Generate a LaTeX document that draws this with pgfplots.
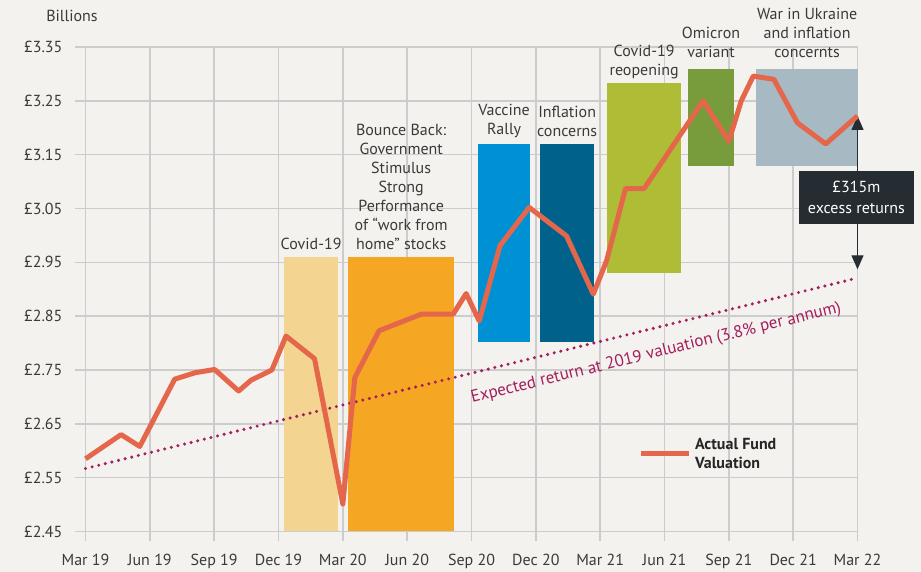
\documentclass[border=0pt]{standalone}
\usepackage{pgfplots}
\pgfplotsset{compat=1.18}
\usepackage{fontspec}
\setmainfont{PT Sans}
\usetikzlibrary{arrows.meta}
\definecolor{bg}{HTML}{F4F2EE}
\definecolor{gridc}{HTML}{CCCCCC}
\definecolor{fund}{HTML}{E5674B}
\definecolor{expc}{HTML}{A51D5D}
\definecolor{covid}{HTML}{F3D591}
\definecolor{bounce}{HTML}{F5A623}
\definecolor{vacc}{HTML}{0090D4}
\definecolor{infl}{HTML}{00628A}
\definecolor{reopen}{HTML}{AFBD36}
\definecolor{omic}{HTML}{789B3B}
\definecolor{war}{HTML}{A7B9C3}
\definecolor{boxc}{HTML}{262D32}
\definecolor{txt}{HTML}{3A3A3A}
\newcommand{\lf}{\fontsize{8}{9.5}\selectfont}
\begin{document}
\begin{tikzpicture}
\fill[bg] (-42.75pt,-20.25pt) rectangle (417.75pt,265.75pt);
\begin{axis}[
  scale only axis, width=386pt, height=242.25pt,
  xmin=0, xmax=36, ymin=2.45, ymax=3.35,
  axis line style={draw=none},
  grid=major, grid style={draw=gridc, line width=0.8pt},
  tick style={draw=gridc, line width=0.8pt},
  major tick length=5pt, tick align=outside,
  xtick pos=left, ytick pos=left,
  xtick={0,3,...,36},
  xticklabels={Mar 19,Jun 19,Sep 19,Dec 19,Mar 20,Jun 20,Sep 20,Dec 20,Mar 21,Jun 21,Sep 21,Dec 21,Mar 22},
  ytick={2.45,2.55,2.65,2.75,2.85,2.95,3.05,3.15,3.25,3.35},
  yticklabels={£2.45,£2.55,£2.65,£2.75,£2.85,£2.95,£3.05,£3.15,£3.25,£3.35},
  ticklabel style={font=\lf, text=txt},
  xticklabel style={yshift=-3pt},
  yticklabel style={xshift=-3pt},
  clip=false,
  legend style={at={(axis cs:25.47,2.602)}, anchor=west, draw=none, fill=none, font=\lf\bfseries, text=black!85},
  legend image code/.code={\draw[#1, line width=2.5pt] (0pt,-2pt) -- (24pt,-2pt);},
  legend cell align=left,
]
% event bands
\addplot[fill=covid, draw=none, forget plot] coordinates {(9.27,2.45) (11.77,2.45) (11.77,2.96) (9.27,2.96)} -- cycle;
\addplot[fill=bounce, draw=none, forget plot] coordinates {(12.26,2.45) (17.19,2.45) (17.19,2.96) (12.26,2.96)} -- cycle;
\addplot[fill=vacc, draw=none, forget plot] coordinates {(18.32,2.802) (20.74,2.802) (20.74,3.17) (18.32,3.17)} -- cycle;
\addplot[fill=infl, draw=none, forget plot] coordinates {(21.19,2.802) (23.71,2.802) (23.71,3.17) (21.19,3.17)} -- cycle;
\addplot[fill=reopen, draw=none, forget plot] coordinates {(24.33,2.931) (27.79,2.931) (27.79,3.283) (24.33,3.283)} -- cycle;
\addplot[fill=omic, draw=none, forget plot] coordinates {(28.09,3.129) (30.23,3.129) (30.23,3.309) (28.09,3.309)} -- cycle;
\addplot[fill=war, draw=none, forget plot] coordinates {(31.28,3.129) (36.0,3.129) (36.0,3.309) (31.28,3.309)} -- cycle;
% expected return
\addplot[expc, line width=1.7pt, line cap=round, dash pattern=on 0pt off 3.4pt, forget plot] coordinates {(0,2.567) (36,2.921)};
% arrow and box
\draw[boxc, line width=0.6pt, {Triangle[width=6pt,length=7pt]}-{Triangle[width=6pt,length=7pt]}] (axis cs:36,3.222) -- (axis cs:36,2.937);
\node[fill=boxc, text=white, font=\lf, align=center, minimum width=57.5pt, minimum height=26.5pt, inner sep=0pt] at (axis cs:35.95,3.071) {£315m\\[1pt]excess returns};
% actual fund
\addplot[fund, line width=2.5pt, line join=round] coordinates {
(0,2.585) (1.66,2.63) (2.53,2.608) (4.16,2.733) (5.12,2.745) (6.02,2.751)
(7.14,2.711) (7.72,2.731) (8.69,2.75) (9.35,2.813) (10.68,2.771) (12.0,2.501)
(12.56,2.736) (13.69,2.823) (15.68,2.854) (17.15,2.854) (17.75,2.892) (18.36,2.841)
(19.33,2.981) (20.69,3.052) (22.43,2.999) (23.68,2.891) (24.3,2.953) (25.18,3.087)
(26.05,3.087) (28.8,3.25) (30.0,3.175) (30.58,3.25) (31.14,3.296) (32.1,3.29)
(33.2,3.209) (34.52,3.17) (36,3.222)};
\addlegendentry{\begin{tabular}{@{}l@{}}Actual Fund\\Valuation\end{tabular}}
% labels
\node[font=\lf, text=txt, align=center] at (axis cs:10.52,2.984) {Covid-19};
\node[font=\lf, text=txt, align=center] at (axis cs:14.72,3.09) {Bounce Back:\\Government\\Stimulus\\Strong\\Performance\\of “work from\\home” stocks};
\node[font=\lf, text=txt, align=center] at (axis cs:19.52,3.212) {Vaccine\\Rally};
\node[font=\lf, text=txt, align=center] at (axis cs:22.46,3.212) {Inflation\\concerns};
\node[font=\lf, text=txt, align=center] at (axis cs:26.05,3.323) {Covid-19\\reopening};
\node[font=\lf, text=txt, align=center] at (axis cs:29.17,3.358) {Omicron\\variant};
\node[font=\lf, text=txt, align=center] at (axis cs:33.65,3.376) {War in Ukraine\\and inflation\\concernts};
\node[font=\lf, text=txt] at (axis cs:-0.63,3.408) {Billions};
\node[font=\fontsize{8.5}{10}\selectfont, text=expc, rotate=13.8] at (axis cs:26.61,2.781) {Expected return at 2019 valuation (3.8\% per annum)};
\end{axis}
\pgfresetboundingbox
\path[use as bounding box] (-42.75pt,-20.25pt) rectangle (417.75pt,265.75pt);
\end{tikzpicture}
\end{document}
